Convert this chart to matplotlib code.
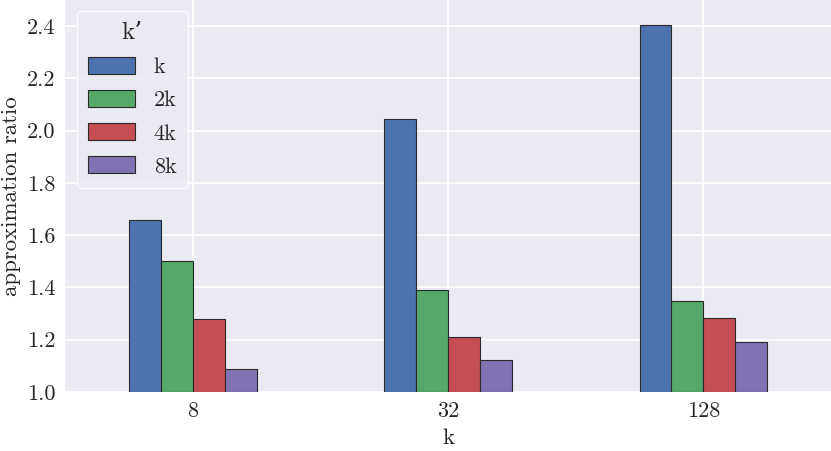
import matplotlib
matplotlib.use("Agg")
import matplotlib.pyplot as plt
import numpy as np

categories = ["8", "32", "128"]
series_names = ["k", "2k", "4k", "8k"]
vals_k = [1.66, 2.046, 2.405]
vals_2k = [1.50, 1.389, 1.347]
vals_4k = [1.279, 1.21, 1.282]
vals_8k = [1.088, 1.122, 1.191]
colors = ["#4C72B0", "#55A868", "#C44E52", "#8172B2"]

plt.rcParams['font.family'] = ['cmr10', 'DejaVu Serif']
plt.rcParams['axes.formatter.use_mathtext'] = True
plt.rcParams['mathtext.fontset'] = 'cm'

fig = plt.figure(figsize=(8.31, 4.51), dpi=100)
ax = fig.add_axes([65/831, (451-392)/451, 766/831, 392/451])
ax.set_facecolor("#EAEAF2")
for s in ax.spines.values():
    s.set_visible(False)
ax.grid(True, color="white", linewidth=1.2)
ax.set_axisbelow(True)

series = [vals_k, vals_2k, vals_4k, vals_8k]
x = np.arange(len(categories))
w = 0.125
for i, (name, v) in enumerate(zip(series_names, series)):
    ax.bar(x + (i - 1.5) * w, np.array(v) - 1.0, width=w, bottom=1.0,
           color=colors[i], edgecolor="#2a2a2a", linewidth=0.8, label=name)

ax.set_xlim(-0.5, 2.5)
ax.set_ylim(1.0, 2.5)
ax.set_yticks([1.0, 1.2, 1.4, 1.6, 1.8, 2.0, 2.2, 2.4])
ax.set_yticklabels(["1.0", "1.2", "1.4", "1.6", "1.8", "2.0", "2.2", "2.4"])
ax.set_xticks(x)
ax.set_xticklabels(categories)
ax.tick_params(axis='both', length=0, labelsize=16, colors="#262626", pad=7)
ax.set_xlabel("k", fontsize=16.5, color="#262626", labelpad=5)
ax.set_ylabel("approximation ratio", fontsize=16.5, color="#262626", labelpad=4)

leg = ax.legend(title="k’", loc="upper left", fontsize=16, title_fontsize=18,
                frameon=True, facecolor="#EAEAF2", edgecolor="white",
                framealpha=0.8, handlelength=2.1, handleheight=0.8,
                borderpad=0.5, labelspacing=0.58, handletextpad=0.85,
                borderaxespad=0, bbox_to_anchor=(12/766, 1 - 11/392))
leg.get_frame().set_linewidth(1.0)
for t in leg.get_texts():
    t.set_color("#262626")
leg.get_title().set_color("#262626")

fig.savefig("out.png", dpi=100)
